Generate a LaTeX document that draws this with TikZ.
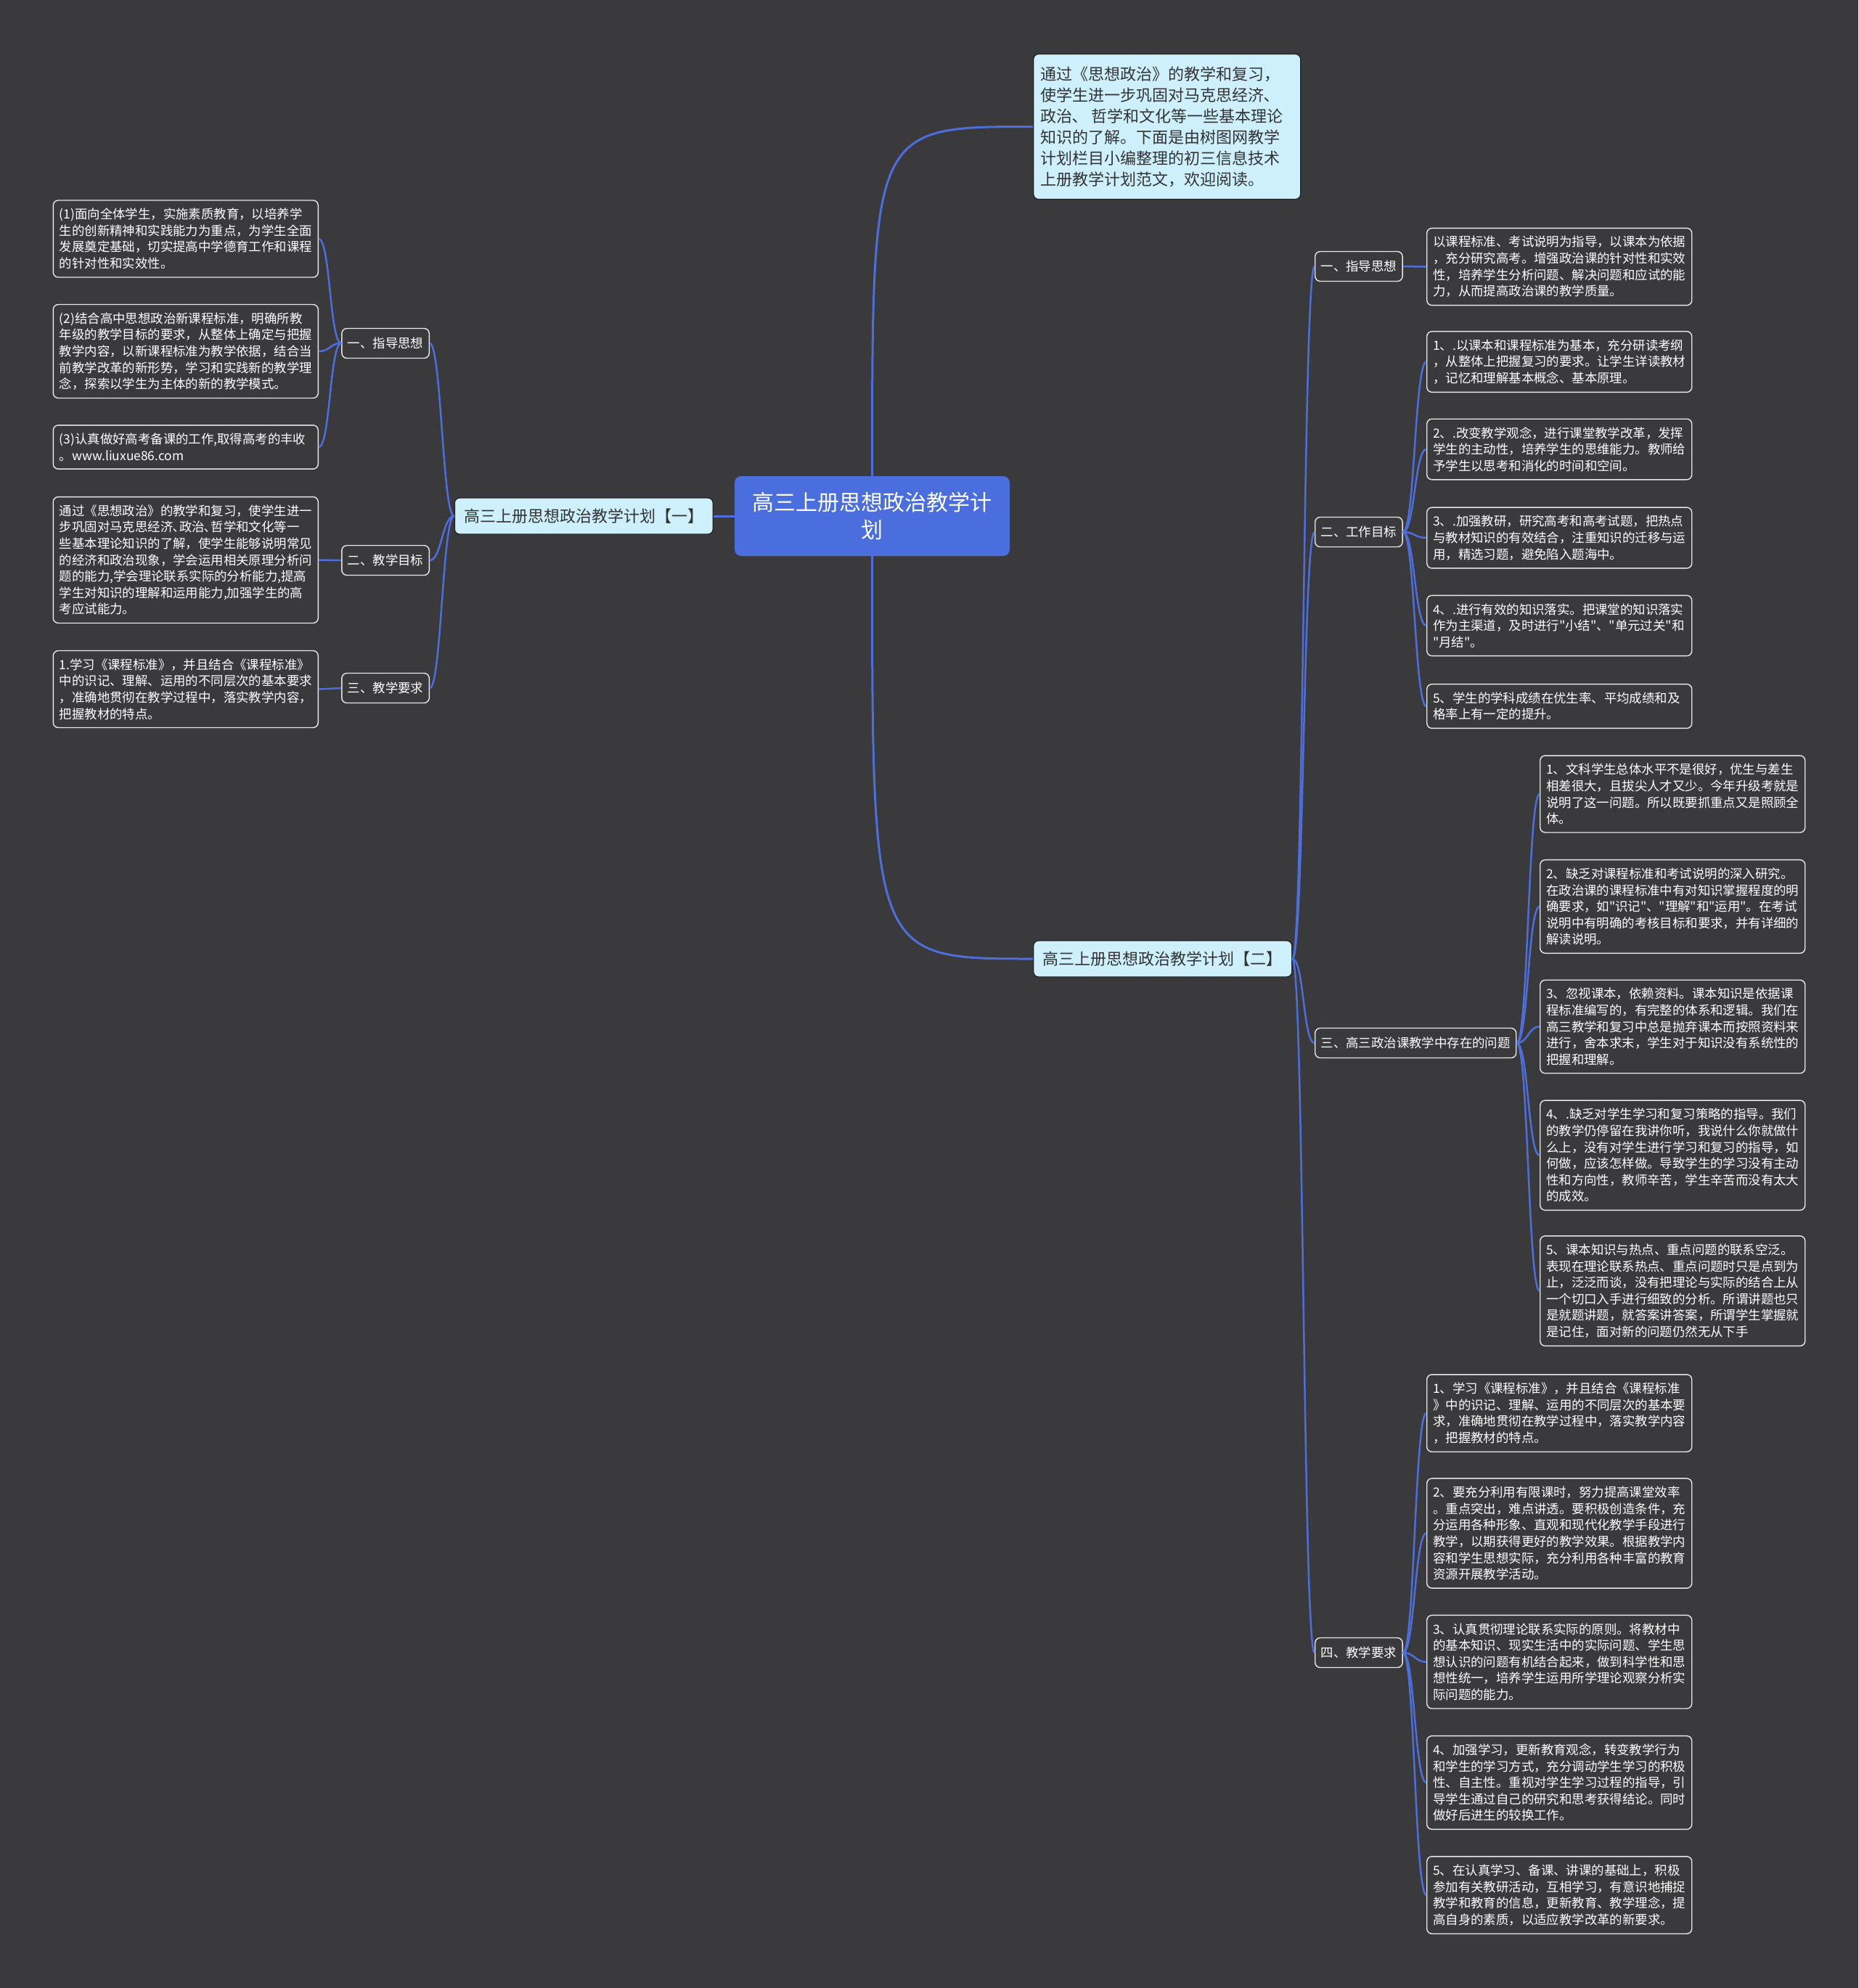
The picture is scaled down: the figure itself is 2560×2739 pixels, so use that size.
\documentclass[tikz,border=0pt]{standalone}
\usepackage{fontspec}
\newfontfamily\cjk{Noto Sans CJK SC}
\definecolor{bgc}{HTML}{3A393B}
\definecolor{linkc}{HTML}{4E6FDB}
\definecolor{rootc}{HTML}{4B6EDE}
\definecolor{paleblue}{HTML}{CDF0FC}
\definecolor{darktext}{HTML}{333333}
\definecolor{leafline}{HTML}{E8E8E8}
\newcommand\mmR[2]{\draw[link] (#1.east) .. controls +(16,0) and +(-16,0) .. (#2.west);}
\newcommand\mmL[2]{\draw[link] (#1.west) .. controls +(-16,0) and +(16,0) .. (#2.east);}
\begin{document}
\begin{tikzpicture}[x=1pt,y=-1pt,
  leafbox/.style={draw=leafline, line width=1.4pt, rounded corners=7pt, fill=bgc, text=white,
    font=\cjk\fontsize{17.4}{22.6}\selectfont, text width=348pt, align=left, inner xsep=8.5pt, inner ysep=11pt},
  subbox/.style={draw=leafline, line width=1.4pt, rounded corners=7pt, fill=bgc, text=white,
    font=\cjk\fontsize{17.4}{22.6}\selectfont, inner xsep=8pt, minimum height=41pt},
  branchbox/.style={draw=black!85, line width=1.4pt, rounded corners=7pt, fill=paleblue, text=darktext,
    font=\cjk\fontsize{22}{29}\selectfont, minimum height=50pt, minimum width=356pt},
  introbox/.style={draw=black!85, line width=1.4pt, rounded corners=7pt, fill=paleblue, text=darktext,
    font=\cjk\fontsize{22}{29}\selectfont, text width=348pt, align=left, inner xsep=10pt, inner ysep=17pt},
  rootbox/.style={fill=rootc, rounded corners=9pt, text=white, font=\cjk\fontsize{30}{38}\selectfont,
    align=center, minimum width=379pt, minimum height=110pt},
  link/.style={draw=linkc, line width=2.5pt},
]
\fill[bgc] (0,0) rectangle (2560,2739);
\useasboundingbox (0,0) rectangle (2560,2739);

% root and first level
\node[rootbox] (root) at (1201.5,711) {高三上册思想政治教学计\\划};
\node[introbox, anchor=west] (intro) at (1423,174.5) {通过《思想政治》的教学和复习，\\使学生进一步巩固对马克思经济､\\政治､\ \ 哲学和文化等一些基本理论\\知识的了解。下面是由树图网教学\\计划栏目小编整理的初三信息技术\\上册教学计划范文，欢迎阅读。};
\node[branchbox, anchor=east] (b1) at (983,711) {高三上册思想政治教学计划【一】};
\node[branchbox, anchor=west] (b2) at (1423,1321) {高三上册思想政治教学计划【二】};

% left side
\node[subbox, anchor=east] (l1) at (592,473) {一、指导思想};
\node[subbox, anchor=east] (l2) at (592,772) {二、教学目标};
\node[subbox, anchor=east] (l3) at (592,948) {三、教学要求};

\node[leafbox, anchor=east] (l1a) at (439,329) {(1)面向全体学生，实施素质教育，以培养学\\生的创新精神和实践能力为重点，为学生全面\\发展奠定基础，切实提高中学德育工作和课程\\的针对性和实效性。};
\node[leafbox, anchor=east] (l1b) at (439,484) {(2)结合高中思想政治新课程标准，明确所教\\年级的教学目标的要求，从整体上确定与把握\\教学内容，以新课程标准为教学依据，结合当\\前教学改革的新形势，学习和实践新的教学理\\念，探索以学生为主体的新的教学模式。};
\node[leafbox, anchor=east] (l1c) at (439,616) {(3)认真做好高考备课的工作,取得高考的丰收\\。www.liuxue86.com};
\node[leafbox, anchor=east] (l2a) at (439,771.5) {通过《思想政治》的教学和复习，使学生进一\\步巩固对马克思经济､政治､哲学和文化等一\\些基本理论知识的了解，使学生能够说明常见\\的经济和政治现象，学会运用相关原理分析问\\题的能力,学会理论联系实际的分析能力,提高\\学生对知识的理解和运用能力,加强学生的高\\考应试能力。};
\node[leafbox, anchor=east] (l3a) at (439,949.5) {1.学习《课程标准》，并且结合《课程标准》\\中的识记、理解、运用的不同层次的基本要求\\，准确地贯彻在教学过程中，落实教学内容，\\把握教材的特点。};

% right side
\node[subbox, anchor=west] (r1) at (1811,367) {一、指导思想};
\node[subbox, anchor=west] (r2) at (1811,733) {二、工作目标};
\node[subbox, anchor=west] (r3) at (1811,1437) {三、高三政治课教学中存在的问题};
\node[subbox, anchor=west] (r4) at (1811,2277) {四、教学要求};

\node[leafbox, anchor=west] (r1a) at (1965,367.5) {以课程标准、考试说明为指导，以课本为依据\\，充分研究高考。增强政治课的针对性和实效\\性，培养学生分析问题、解决问题和应试的能\\力，从而提高政治课的教学质量。};

\node[leafbox, anchor=west] (r2a) at (1965,498.5) {1、.以课本和课程标准为基本，充分研读考纲\\，从整体上把握复习的要求。让学生详读教材\\，记忆和理解基本概念、基本原理。};
\node[leafbox, anchor=west] (r2b) at (1965,619) {2、.改变教学观念，进行课堂教学改革，发挥\\学生的主动性，培养学生的思维能力。教师给\\予学生以思考和消化的时间和空间。};
\node[leafbox, anchor=west] (r2c) at (1965,741) {3、.加强教研，研究高考和高考试题，把热点\\与教材知识的有效结合，注重知识的迁移与运\\用，精选习题，避免陷入题海中。};
\node[leafbox, anchor=west] (r2d) at (1965,862) {4、.进行有效的知识落实。把课堂的知识落实\\作为主渠道，及时进行"小结"、"单元过关"和\\"月结"。};
\node[leafbox, anchor=west] (r2e) at (1965,973) {5、学生的学科成绩在优生率、平均成绩和及\\格率上有一定的提升。};

\node[leafbox, anchor=west] (r3a) at (2121,1094) {1、文科学生总体水平不是很好，优生与差生\\相差很大，且拔尖人才又少。今年升级考就是\\说明了这一问题。所以既要抓重点又是照顾全\\体。};
\node[leafbox, anchor=west] (r3b) at (2121,1249) {2、缺乏对课程标准和考试说明的深入研究。\\在政治课的课程标准中有对知识掌握程度的明\\确要求，如"识记"、"理解"和"运用"。在考试\\说明中有明确的考核目标和要求，并有详细的\\解读说明。};
\node[leafbox, anchor=west] (r3c) at (2121,1414.5) {3、忽视课本，依赖资料。课本知识是依据课\\程标准编写的，有完整的体系和逻辑。我们在\\高三教学和复习中总是抛弃课本而按照资料来\\进行，舍本求末，学生对于知识没有系统性的\\把握和理解。};
\node[leafbox, anchor=west] (r3d) at (2121,1591.7) {4、.缺乏对学生学习和复习策略的指导。我们\\的教学仍停留在我讲你听，我说什么你就做什\\么上，没有对学生进行学习和复习的指导，如\\何做，应该怎样做。导致学生的学习没有主动\\性和方向性，教师辛苦，学生辛苦而没有太大\\的成效。};
\node[leafbox, anchor=west] (r3e) at (2121,1778.6) {5、课本知识与热点、重点问题的联系空泛。\\表现在理论联系热点、重点问题时只是点到为\\止，泛泛而谈，没有把理论与实际的结合上从\\一个切口入手进行细致的分析。所谓讲题也只\\是就题讲题，就答案讲答案，所谓学生掌握就\\是记住，面对新的问题仍然无从下手};

\node[leafbox, anchor=west] (r4a) at (1965,1947) {1、学习《课程标准》，并且结合《课程标准\\》中的识记、理解、运用的不同层次的基本要\\求，准确地贯彻在教学过程中，落实教学内容\\，把握教材的特点。};
\node[leafbox, anchor=west] (r4b) at (1965,2112.5) {2、要充分利用有限课时，努力提高课堂效率\\。重点突出，难点讲透。要积极创造条件，充\\分运用各种形象、直观和现代化教学手段进行\\教学，以期获得更好的教学效果。根据教学内\\容和学生思想实际，充分利用各种丰富的教育\\资源开展教学活动。};
\node[leafbox, anchor=west] (r4c) at (1965,2289.7) {3、认真贯彻理论联系实际的原则。将教材中\\的基本知识、现实生活中的实际问题、学生思\\想认识的问题有机结合起来，做到科学性和思\\想性统一，培养学生运用所学理论观察分析实\\际问题的能力。};
\node[leafbox, anchor=west] (r4d) at (1965,2456) {4、加强学习，更新教育观念，转变教学行为\\和学生的学习方式，充分调动学生学习的积极\\性、自主性。重视对学生学习过程的指导，引\\导学生通过自己的研究和思考获得结论。同时\\做好后进生的较换工作。};
\node[leafbox, anchor=west] (r4e) at (1965,2611) {5、在认真学习、备课、讲课的基础上，积极\\参加有关教研活动，互相学习，有意识地捕捉\\教学和教育的信息，更新教育、教学理念，提\\高自身的素质，以适应教学改革的新要求。};

% connectors
\draw[link, line width=3pt] (root.north) .. controls (root.north |- intro.west) .. (intro.west);
\draw[link, line width=3pt] (root.south) .. controls (root.south |- b2.west) .. (b2.west);
\draw[link, line width=3pt] (root.west) -- (b1.east);

\mmL{b1}{l1} \mmL{b1}{l2} \mmL{b1}{l3}
\mmL{l1}{l1a} \mmL{l1}{l1b} \mmL{l1}{l1c}
\mmL{l2}{l2a}
\mmL{l3}{l3a}

\mmR{b2}{r1} \mmR{b2}{r2} \mmR{b2}{r3} \mmR{b2}{r4}
\mmR{r1}{r1a}
\mmR{r2}{r2a} \mmR{r2}{r2b} \mmR{r2}{r2c} \mmR{r2}{r2d} \mmR{r2}{r2e}
\mmR{r3}{r3a} \mmR{r3}{r3b} \mmR{r3}{r3c} \mmR{r3}{r3d} \mmR{r3}{r3e}
\mmR{r4}{r4a} \mmR{r4}{r4b} \mmR{r4}{r4c} \mmR{r4}{r4d} \mmR{r4}{r4e}
\end{tikzpicture}
\end{document}
